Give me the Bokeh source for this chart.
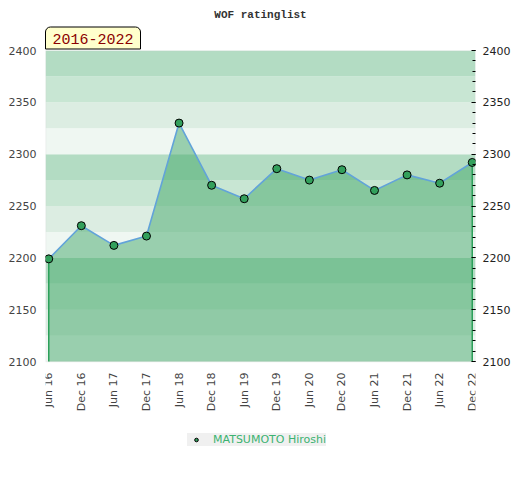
from math import pi
from bokeh.plotting import figure
from bokeh.models import (Range1d, LinearAxis, SingleIntervalTicker, FixedTicker, BoxAnnotation,
                          Title, Legend, LegendItem, ColumnDataSource)
from bokeh.embed import file_html
from bokeh.resources import INLINE

periods = ["Jun 16", "Dec 16", "Jun 17", "Dec 17", "Jun 18", "Dec 18", "Jun 19",
           "Dec 19", "Jun 20", "Dec 20", "Jun 21", "Dec 21", "Jun 22", "Dec 22"]
ratings = [2199, 2231, 2212, 2221, 2330, 2270, 2257, 2286, 2275, 2285, 2265, 2280, 2272, 2292]
player = "MATSUMOTO Hiroshi"
title_text = "WOF ratinglist"
span_text = "2016-2022"
y_ticks_step = 50
y_min, y_max = 2100, 2400

# layout (pixels): chart area is 311 px tall; frame extends below it to hold
# the axis labels and the legend
W, H = 520, 480
top_px, bottom_px, chart_px = 50, 20, 311
frame_px = H - top_px - bottom_px
y_lo = y_max - (y_max - y_min) * frame_px / chart_px

xs = list(range(len(periods)))
src = ColumnDataSource(dict(x=xs, y=ratings, base=[y_min] * len(xs)))

p = figure(width=W, height=H, output_backend="svg", toolbar_location=None,
           x_range=Range1d(-0.1, len(periods) - 1 + 0.1), y_range=Range1d(y_lo, y_max),
           min_border_left=45, min_border_right=45, min_border_top=top_px,
           min_border_bottom=bottom_px,
           background_fill_color="white", border_fill_color="white",
           outline_line_color=None)
p.xgrid.visible = False
p.ygrid.visible = False

# background bands
band_colors = ["#eff7f2", "#dcede2", "#c8e6d3", "#b3dcc3"]
for i, lo in enumerate(range(y_min, y_max, 25)):
    p.add_layout(BoxAnnotation(bottom=lo, top=lo + 25, fill_color=band_colors[i % 4],
                               fill_alpha=1, line_alpha=0, level="underlay"))

p.varea(x="x", y1="base", y2="y", source=src, fill_color="#43a869", fill_alpha=0.5)
p.segment(x0=[xs[0], xs[-1]], y0=[y_min, y_min], x1=[xs[0], xs[-1]],
          y1=[ratings[0], ratings[-1]], line_color="#2ca05a", line_width=1.5)
p.line("x", "y", source=src, line_color="#62a3d9", line_width=1.6)
r = p.scatter("x", "y", source=src, size=8, fill_color="#33a05c",
              line_color="black", line_width=1)

# chart border
p.add_layout(BoxAnnotation(bottom=y_min, top=y_max, fill_alpha=0,
                           line_color="#cccccc", line_width=1.5, level="underlay"))

# x axis, pinned at the bottom of the chart area
xa = p.xaxis[0]
xa.fixed_location = y_min
xa.ticker = FixedTicker(ticks=xs)
xa.major_label_overrides = {i: s for i, s in enumerate(periods)}
xa.major_label_orientation = pi / 2
xa.axis_line_color = None
xa.major_tick_line_color = None
xa.minor_tick_line_color = None
xa.major_tick_out = 0
xa.major_label_standoff = 11
xa.major_label_text_font = "DejaVu Sans"
xa.major_label_text_font_size = "11px"
xa.major_label_text_color = "#444444"

# left axis
ya = p.yaxis[0]
ya.ticker = SingleIntervalTicker(interval=y_ticks_step, num_minor_ticks=0)
ya.bounds = (y_min, y_max)
ya.axis_line_color = None
ya.major_tick_line_color = None
ya.minor_tick_line_color = None
ya.major_tick_out = 0
ya.major_label_standoff = 9
ya.major_label_text_font = "DejaVu Sans"
ya.major_label_text_font_size = "11px"
ya.major_label_text_color = "#444444"

# right axis
ra = LinearAxis(ticker=SingleIntervalTicker(interval=y_ticks_step, num_minor_ticks=5),
                bounds=(y_min, y_max))
ra.axis_line_color = None
ra.major_tick_in = 4
ra.major_tick_out = 0
ra.minor_tick_in = 3
ra.minor_tick_out = 0
ra.major_tick_line_color = "black"
ra.minor_tick_line_color = "black"
ra.major_label_standoff = 7
ra.major_label_text_font = "DejaVu Sans"
ra.major_label_text_font_size = "11px"
ra.major_label_text_color = "#222222"
p.add_layout(ra, "right")

# period badge (nearest the frame) and title above it
p.add_layout(Title(text=span_text, align="left", standoff=3,
                   text_font="Liberation Mono", text_font_size="15px",
                   text_font_style="normal", text_color="#8b0000",
                   background_fill_color="#ffffcc", border_line_color="black",
                   border_line_width=1,
                   padding=dict(left=7, right=7, top=7, bottom=5),
                   border_radius=dict(top_left=5, top_right=5, bottom_right=0, bottom_left=0)),
             "above")
p.title.text = title_text
p.title.align = "center"
p.title.standoff = 6
p.title.text_font = "Liberation Mono"
p.title.text_font_style = "bold"
p.title.text_font_size = "11px"
p.title.text_color = "#333333"

legend = Legend(items=[LegendItem(label=player, renderers=[r])], location=(142, 14),
                background_fill_color="#f0f0f0", background_fill_alpha=1,
                border_line_color=None, padding=5, spacing=0, margin=0,
                glyph_width=18, glyph_height=9, label_height=9, label_standoff=8,
                label_text_font="DejaVu Sans", label_text_font_size="11px",
                label_text_color="#3cb371")
p.add_layout(legend, "center")

open("out.html", "w").write(file_html(p, INLINE))
